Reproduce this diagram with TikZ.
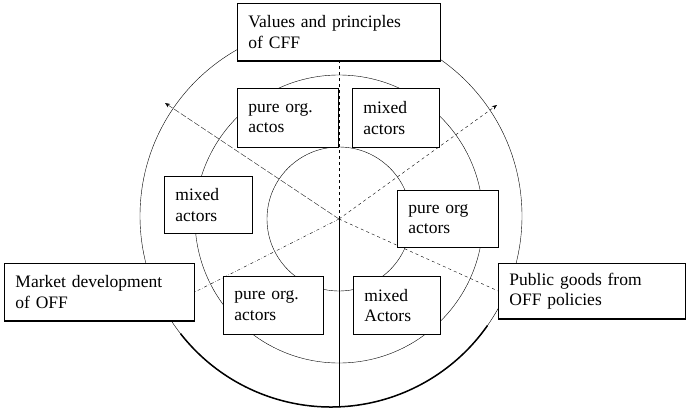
\documentclass[tikz,border=0pt]{standalone}
\usepackage{fontspec}
\setmainfont{Liberation Serif}
\usetikzlibrary{arrows.meta,positioning,backgrounds}

\begin{document}
\begin{tikzpicture}[x=1pt,y=-1pt,line width=0.9pt,
    box/.style={draw,fill=white,anchor=north west,align=left,inner xsep=11pt,inner ysep=0pt,
      font=\fontsize{17.5}{20.5}\selectfont}]
    \useasboundingbox (0,0) rectangle (688,410);

    \node[box,text width=181pt,minimum height=57pt] (VP) at (237,3) {Values and principles\\of CFF};
    \node[box,text width=79pt,minimum height=59pt] (PO_1) at (237,88) {pure org.\\actos};
    \node[box,text width=65pt,minimum height=59pt] (MA_1) at (352,88) {mixed\\actors};
    \node[box,text width=66pt,minimum height=57pt] (MA_2) at (164,176) {mixed\\actors};
    \node[box,text width=79pt,minimum height=57pt] (PO_2) at (397,190) {pure org\\actors};
    \node[box,text width=168pt,minimum height=57pt] (MD) at (4,263) {Market development\\of OFF};
    \node[box,text width=165pt,minimum height=55pt] (PG) at (498,263) {Public goods from\\OFF policies};
    \node[box,text width=78pt,minimum height=58pt] (PO_3) at (223,276) {pure org.\\actors};
    \node[box,text width=65pt,minimum height=58pt] (MA_3) at (353,276) {mixed\\Actors};

    \draw[line width=1.6pt] (VP.south west) -- (VP.south east);
    \draw[line width=1.6pt] (MD.south west) -- (MD.south east);
    \draw[line width=1.6pt] (PG.south west) -- (PG.south east);

    \begin{pgfonlayer}{background}
      \coordinate (C) at (339,219);
      \coordinate (OC) at (331,216);
      \coordinate (UL) at (165,103);
      \coordinate (UR) at (497,105);
      \coordinate (BOT) at (339,407);

      \draw (OC) circle[radius=191pt];
      \draw[line width=1.5pt] ([shift={(218:191pt)}]OC) arc[start angle=218,end angle=325,radius=191pt];
      \draw (C) circle[radius=144pt];
      \draw (C) circle[radius=72pt];

      \tikzset{ray/.style={dashed,-{Stealth[length=5pt,width=4pt]}}}
      \path (C) edge [dashed] (C |- VP.south);
      \path (C) edge (BOT);
      \path (C) edge [ray,dash pattern=on 6pt off 2pt] (UL);
      \path (C) edge [ray] (UR);
      \path (C) edge [dash dot] (MD.east);
      \path (C) edge [dashed] (PG.west);
    \end{pgfonlayer}

\end{tikzpicture}
\end{document}
